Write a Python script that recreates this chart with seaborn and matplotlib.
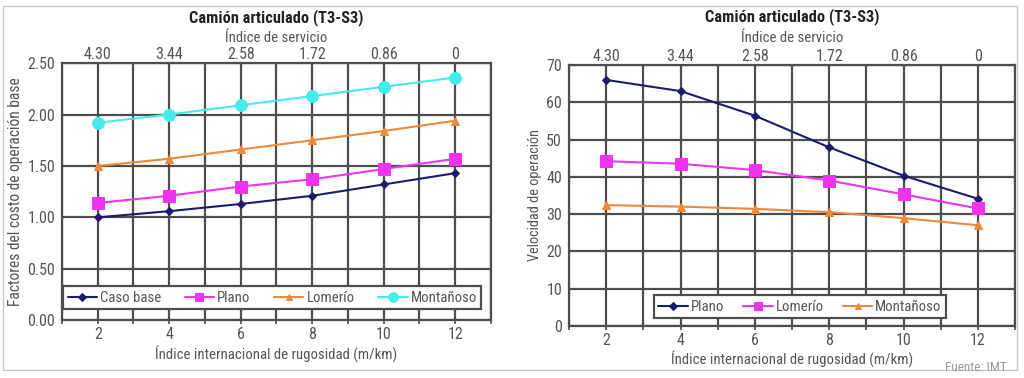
import numpy as np
import pandas as pd
import matplotlib
matplotlib.use("Agg")
import matplotlib.pyplot as plt
from matplotlib.patches import Rectangle
import seaborn as sns

# data
iri = [2, 4, 6, 8, 10, 12]
servicio_labels = ["4.30", "3.44", "2.58", "1.72", "0.86", "0"]

# left: cost factors
costo_caso_base = [1.00, 1.06, 1.13, 1.21, 1.32, 1.43]
costo_plano = [1.14, 1.21, 1.30, 1.37, 1.47, 1.57]
costo_lomerio = [1.50, 1.57, 1.66, 1.75, 1.84, 1.94]
costo_montanoso = [1.92, 2.00, 2.09, 2.18, 2.27, 2.36]

# right: operating speed
vel_plano = [66.0, 63.0, 56.4, 47.9, 40.3, 34.1]
vel_lomerio = [44.2, 43.5, 41.8, 39.0, 35.3, 31.5]
vel_montanoso = [32.4, 32.0, 31.4, 30.5, 28.9, 27.0]

NAVY = "#1c1c6e"
MAGENTA = "#f033f0"
ORANGE = "#f0883a"
CYAN = "#45ecec"
GRID = "#4d4d4d"
TXT = "#555555"

sns.set_style("white")
plt.rcParams["font.family"] = ["Roboto Condensed", "Liberation Sans Narrow",
                               "Liberation Sans", "DejaVu Sans"]
plt.rcParams["text.color"] = TXT
plt.rcParams["axes.labelcolor"] = TXT
plt.rcParams["xtick.color"] = TXT
plt.rcParams["ytick.color"] = TXT

TICK_FS = 11.5
LAB_FS = 10.6

fig = plt.figure(figsize=(10.24, 3.78), dpi=100)
fig.patches.append(Rectangle((0.003, 0.02), 0.99, 0.965, transform=fig.transFigure,
                             fill=False, edgecolor="#c8c8c8", linewidth=1.0))

ax1 = fig.add_axes([0.0605, 0.153, 0.419, 0.680])
ax2 = fig.add_axes([0.5557, 0.138, 0.4355, 0.690])

styles = {
    "Caso base": dict(color=NAVY, marker="D", markersize=4.5),
    "Plano": dict(color=MAGENTA, marker="s", markersize=8),
    "Lomerío": dict(color=ORANGE, marker="^", markersize=5.5),
    "Montañoso": dict(color=CYAN, marker="o", markersize=8.5),
}
styles_r = {
    "Plano": dict(color=NAVY, marker="D", markersize=4.5),
    "Lomerío": dict(color=MAGENTA, marker="s", markersize=8),
    "Montañoso": dict(color=ORANGE, marker="^", markersize=5.5),
}

left = {"Caso base": costo_caso_base, "Plano": costo_plano,
        "Lomerío": costo_lomerio, "Montañoso": costo_montanoso}
right = {"Plano": vel_plano, "Lomerío": vel_lomerio, "Montañoso": vel_montanoso}

for name, vals in left.items():
    df = pd.DataFrame({"x": iri, "y": vals})
    st = styles[name]
    sns.lineplot(data=df, x="x", y="y", ax=ax1, color=st["color"], marker=st["marker"],
                 markersize=st["markersize"], markeredgecolor=st["color"],
                 linewidth=1.5, label=name)

for name, vals in right.items():
    df = pd.DataFrame({"x": iri, "y": vals})
    st = styles_r[name]
    sns.lineplot(data=df, x="x", y="y", ax=ax2, color=st["color"], marker=st["marker"],
                 markersize=st["markersize"], markeredgecolor=st["color"],
                 linewidth=1.5, label=name)


def style_axes(ax, ymax, ystep, yfmt, ylabel, ylabel_fs, ncol, legend_anchor,
               serv_y, title_y, colspace):
    ax.set_xlim(1, 13)
    ax.set_ylim(0, ymax)
    ax.set_xticks(iri)
    ax.set_xticks(np.arange(1, 14, 2), minor=True)
    ax.set_yticks(np.arange(0, ymax + ystep / 2, ystep))
    ax.yaxis.set_major_formatter(matplotlib.ticker.FormatStrFormatter(yfmt))
    ax.grid(True, which="both", axis="x", color=GRID, linewidth=1.6)
    ax.grid(True, which="major", axis="y", color=GRID, linewidth=1.6)
    ax.set_axisbelow(True)
    for s in ax.spines.values():
        s.set_color(GRID)
        s.set_linewidth(1.6)
        s.set_visible(True)
    ax.tick_params(axis="both", which="both", labelsize=TICK_FS, length=3, width=1.2,
                   color=GRID, pad=2)
    ax.set_xlabel("Índice internacional de rugosidad (m/km)", fontsize=LAB_FS, labelpad=2)
    ax.set_ylabel(ylabel, fontsize=ylabel_fs, labelpad=3)

    top = ax.twiny()
    top.set_xlim(ax.get_xlim())
    top.set_xticks(iri)
    top.set_xticklabels(servicio_labels)
    top.tick_params(axis="x", labelsize=TICK_FS, length=0, pad=1, colors=TXT)
    for s in top.spines.values():
        s.set_visible(False)
    ax.text(0.5, serv_y, "Índice de servicio", transform=ax.transAxes, ha="center",
            va="center", fontsize=LAB_FS, color=TXT)
    ax.text(0.5, title_y, "Camión articulado (T3-S3)", transform=ax.transAxes,
            ha="center", va="center", fontsize=11.8, fontweight="bold", color="#222222")

    leg = ax.legend(loc="center", bbox_to_anchor=legend_anchor, ncol=ncol, fontsize=LAB_FS,
                    frameon=True, fancybox=False, shadow=False, handlelength=2.0,
                    handletextpad=0.2, columnspacing=colspace, borderpad=0.3,
                    borderaxespad=0)
    leg.get_frame().set_edgecolor(GRID)
    leg.get_frame().set_linewidth(1.6)
    leg.get_frame().set_facecolor("white")
    leg.get_frame().set_alpha(1)
    for t in leg.get_texts():
        t.set_color(TXT)
    for h in leg.legend_handles:
        h.set_markersize(h.get_markersize() * 0.8)


style_axes(ax1, 2.5, 0.5, "%.2f", "Factores del costo de operación base", 11.2,
           4, (0.49, 0.0875), 1.097, 1.179, 1.6)
style_axes(ax2, 70, 10, "%d", "Velocidad de operación", 10.3, 3, (0.518, 0.073),
           1.103, 1.184, 1.3)

fig.text(0.983, 0.027, "Fuente: IMT", ha="right", va="center", fontsize=9.5, color="#9a9a9a")

fig.savefig("out.png", dpi=100)
